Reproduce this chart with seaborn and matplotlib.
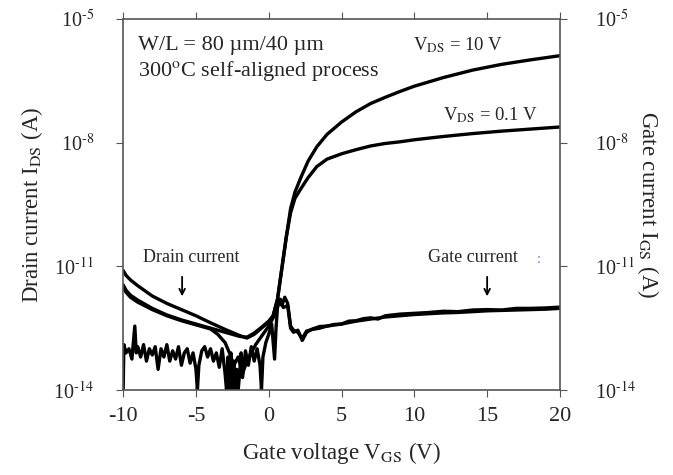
import matplotlib
matplotlib.use("Agg")
import matplotlib.pyplot as plt
import numpy as np
import pandas as pd
import seaborn as sns

# 데이터 (log10 값으로 읽음)
v_id10 = [-10, -9.8, -9.5, -9, -8, -7, -6, -5, -4, -3, -2, -1.5, -1, -0.5, 0, 0.3, 0.6, 0.8, 1.0, 1.2, 1.5,
          1.8, 2.2, 2.7, 3.3, 4, 5, 6, 7, 8, 9, 10, 12, 14, 16, 18, 20]
log_id10 = [-11.1, -11.22, -11.33, -11.47, -11.72, -11.9, -12.05, -12.2, -12.37, -12.53, -12.68, -12.74, -12.65,
            -12.5, -12.35, -12.2, -11.8, -11.3, -10.8, -10.3, -9.6, -9.2, -8.85, -8.45, -8.1, -7.8, -7.5, -7.25,
            -7.05, -6.9, -6.76, -6.63, -6.42, -6.24, -6.1, -5.99, -5.89]

v_id01 = v_id10
log_id01 = [-11.45, -11.58, -11.7, -11.82, -12.02, -12.18, -12.3, -12.4, -12.5, -12.6, -12.7, -12.72, -12.62,
            -12.48, -12.33, -12.2, -11.8, -11.3, -10.8, -10.3, -9.7, -9.35, -9.12, -8.85, -8.58, -8.4, -8.27,
            -8.17, -8.08, -8.02, -7.98, -7.93, -7.85, -7.78, -7.72, -7.67, -7.62]

v_ig10 = [-10, -9.8, -9.5, -9, -8, -7, -6, -5, -4.5, -4, -3.5, -3, -2.7, -2.4, -2.1, -1.8, -1.5, -1.2, -0.9,
          -0.6, -0.3, 0, 0.3, 0.5, 0.7, 0.9, 1.1, 1.3, 1.5, 1.7, 2.0, 2.3, 2.6, 3, 3.5, 4, 5, 6, 7, 8, 9, 10,
          11, 12, 13, 14, 15, 16, 17, 18, 19, 20]
log_ig10 = [-11.5, -11.63, -11.75, -11.87, -12.05, -12.2, -12.32, -12.42, -12.47, -12.52, -12.65, -12.85, -13.1,
            -13.4, -13.2, -13.6, -13.3, -13.1, -12.9, -12.75, -12.6, -12.45, -12.25, -12.1, -11.8, -11.95,
            -11.75, -11.9, -12.45, -12.55, -12.6, -12.75, -12.57, -12.53, -12.5, -12.45, -12.4, -12.33, -12.28,
            -12.23, -12.2, -12.17, -12.15, -12.13, -12.12, -12.1, -12.08, -12.07, -12.06, -12.05, -12.04, -12.02]

v_ig01 = [-10, -9.95, -9.8, -9.6, -9.4, -9.2, -9.1, -9.0, -8.8, -8.6, -8.4, -8.2, -8.0, -7.8, -7.6, -7.4, -7.2,
          -7.0, -6.8, -6.6, -6.4, -6.2, -6.0, -5.8, -5.6, -5.4, -5.2, -5.0, -4.9, -4.8, -4.6, -4.4, -4.2, -4.0,
          -3.8, -3.6, -3.4, -3.2, -3.0, -2.9, -2.8, -2.7, -2.6, -2.5, -2.4, -2.3, -2.2, -2.1, -2.0, -1.9, -1.8,
          -1.6, -1.4, -1.2, -1.0, -0.8, -0.6, -0.5, -0.4, -0.2, 0, 0.2, 0.4, 0.5, 0.6, 0.8, 1.0, 1.3, 1.5, 1.7,
          2.0, 2.3, 2.6, 3.0, 3.5, 4, 4.5, 5, 5.5, 6, 6.5, 7, 7.5, 8, 9, 10, 11, 12, 13, 14, 15, 16, 17, 18,
          19, 20]
log_ig01 = [-14.0, -12.9, -13.1, -13.0, -13.25, -12.45, -13.1, -12.95, -13.2, -12.9, -13.3, -13.0, -13.15,
            -12.95, -13.5, -13.0, -13.2, -12.9, -13.3, -13.05, -13.25, -12.95, -13.4, -13.1, -13.0, -13.35,
            -13.1, -13.5, -14.0, -13.4, -13.05, -12.95, -13.2, -13.0, -13.3, -13.1, -13.45, -13.0, -13.6,
            -14.0, -13.2, -14.0, -13.1, -14.0, -13.3, -14.0, -13.5, -14.0, -13.6, -13.1, -13.7, -13.05, -13.4,
            -12.95, -13.3, -13.0, -13.4, -14.0, -13.2, -12.85, -12.65, -12.4, -13.25, -12.5, -12.0, -11.8,
            -12.0, -11.95, -12.5, -12.6, -12.55, -12.8, -12.6, -12.52, -12.46, -12.45, -12.41, -12.4, -12.33,
            -12.32, -12.27, -12.25, -12.28, -12.2, -12.16, -12.14, -12.12, -12.09, -12.1, -12.06, -12.05,
            -12.06, -12.02, -12.02, -12.01, -11.99]

y_ticks = [1e-14, 1e-11, 1e-8, 1e-5]
y_ticklabels = [r"10$^{\text{-14}}$", r"10$^{\text{-11}}$", r"10$^{\text{-8}}$", r"10$^{\text{-5}}$"]
x_ticks = [-10, -5, 0, 5, 10, 15, 20]

sns.set_style("ticks")
plt.rcParams["font.family"] = ["Liberation Serif", "DejaVu Serif"]
plt.rcParams["mathtext.fontset"] = "stix"
plt.rcParams["axes.unicode_minus"] = False

fig = plt.figure(figsize=(6.73, 4.75), dpi=100)
ax = fig.add_axes([0.183, 0.179, 0.649, 0.781])

series = [(v_id10, log_id10), (v_id01, log_id01), (v_ig10, log_ig10), (v_ig01, log_ig01)]
for v, lg in series:
    df = pd.DataFrame({"v": v, "i": 10.0 ** np.array(lg)})
    sns.lineplot(data=df, x="v", y="i", ax=ax, color="black", linewidth=2.4, estimator=None, sort=False)

ax.set_yscale("log")
ax.set_xlim(-10, 20)
ax.set_ylim(1e-14, 1e-5)
ax.set_xticks(x_ticks)
ax.set_xticklabels([str(t) for t in x_ticks], fontsize=16)
ax.set_yticks(y_ticks)
ax.set_yticklabels(y_ticklabels, fontsize=14.5)
ax.minorticks_off()
ax.tick_params(axis="both", which="major", direction="out", length=5, color="#555555")
ax.tick_params(axis="y", pad=16)
ax.tick_params(axis="x", top=True, pad=7)
for s in ax.spines.values():
    s.set_color("#555555")
    s.set_linewidth(1.2)
    s.set_visible(True)

ax.set_xlabel("Gate voltage V$_{\\mathrm{GS}}$ (V)", fontsize=16.5, labelpad=10)
ax.set_ylabel("Drain current I$_{\\mathrm{DS}}$ (A)", fontsize=16.5, labelpad=6)

ax2 = ax.twinx()
ax2.set_yscale("log")
ax2.set_ylim(1e-14, 1e-5)
ax2.set_yticks(y_ticks)
ax2.set_yticklabels(y_ticklabels, fontsize=14.5)
ax2.minorticks_off()
ax2.tick_params(axis="y", direction="out", length=5, color="#555555", pad=20)
for s in ax2.spines.values():
    s.set_visible(False)
ax2.set_ylabel("Gate current I$_{\\mathrm{GS}}$ (A)", fontsize=16.5, rotation=270, labelpad=18)

ax.text(-9.0, 2.3e-6, "W/L = 80 µm/40 µm", fontsize=16, va="center")
ax.text(-9.0, 5.5e-7, "300$^{\\mathrm{o}}$C self-aligned process", fontsize=16, va="center")
ax.text(13.0, 2.3e-6, "V$_{\\mathrm{DS}}$ = 10 V", fontsize=13.5, va="center", ha="center")
ax.text(15.2, 4.7e-8, "V$_{\\mathrm{DS}}$ = 0.1 V", fontsize=13.5, va="center", ha="center")
ax.text(-5.3, 1.6e-11, "Drain current", fontsize=13, va="center", ha="center")
ax.text(14.0, 1.6e-11, "Gate current", fontsize=13, va="center", ha="center")
ax.annotate("", xy=(-5.95, 1.6e-12), xytext=(-5.95, 6.5e-12),
            arrowprops=dict(arrowstyle="->", color="black", lw=1.3))
ax.annotate("", xy=(15.0, 1.6e-12), xytext=(15.0, 6.5e-12),
            arrowprops=dict(arrowstyle="->", color="black", lw=1.3))
ax.text(18.55, 1.5e-11, ":", fontsize=10, color="#3a7fd0", va="center", ha="center")

fig.savefig("out.png", dpi=100)
